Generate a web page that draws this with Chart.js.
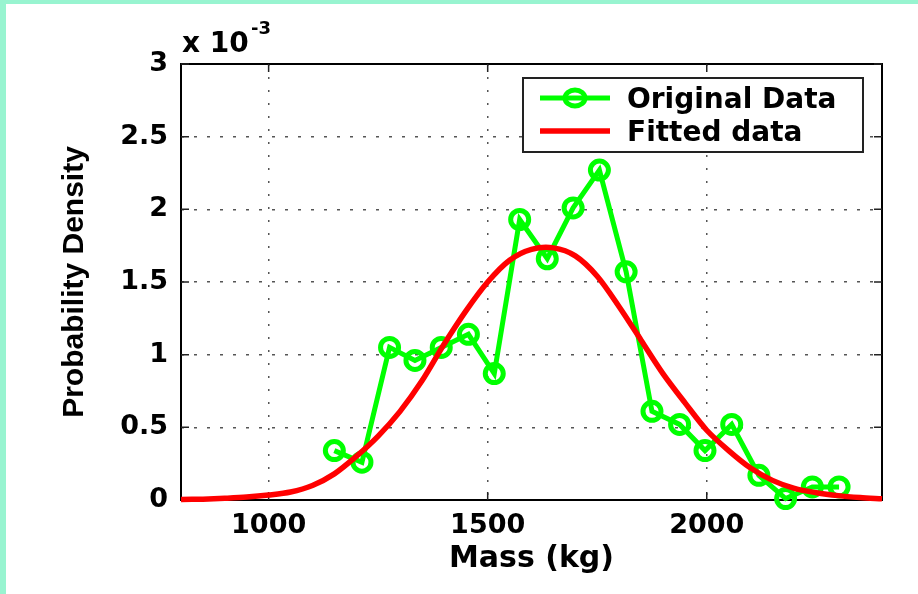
<!DOCTYPE html>
<html>
<head>
<meta charset="utf-8">
<script src="https://cdn.jsdelivr.net/npm/chart.js@4/dist/chart.umd.min.js"></script>
<style>
  html, body { margin: 0; padding: 0; background: #fff; }
  #wrap { width: 918px; height: 594px; }
</style>
</head>
<body>
<div id="wrap"><canvas id="myChart" width="918" height="594"></canvas></div>
<script>
// data (density in units of 1e-3)
const massData = [1150, 1213, 1276, 1334, 1394, 1456, 1515, 1573, 1636, 1695,
                  1755, 1816, 1875, 1938, 1996, 2057, 2119, 2180, 2241, 2302];
const densityData = [0.34, 0.26, 1.05, 0.96, 1.05, 1.14, 0.87, 1.93, 1.66, 2.01,
                     2.27, 1.57, 0.61, 0.52, 0.34, 0.52, 0.17, 0.01, 0.09, 0.09];

const fitMass = [800, 850, 900, 950, 1000, 1050, 1100, 1150, 1200, 1250, 1300,
                 1350, 1400, 1450, 1500, 1550, 1600, 1650, 1700, 1750, 1800,
                 1850, 1900, 1950, 2000, 2050, 2100, 2150, 2200, 2250, 2300, 2350, 2400];
const fitDensity = [0.003, 0.006, 0.012, 0.02, 0.034, 0.055, 0.10, 0.18, 0.30, 0.44, 0.61,
                    0.82, 1.07, 1.30, 1.50, 1.65, 1.725, 1.735, 1.68, 1.54, 1.33,
                    1.10, 0.87, 0.67, 0.48, 0.34, 0.22, 0.135, 0.08, 0.05, 0.03, 0.017, 0.008];

const xTicks = [1000, 1500, 2000];
const yTicks = [0, 0.5, 1, 1.5, 2, 2.5, 3];

const seriesLabels = ['Original Data', 'Fitted data'];
const exponentText = ['x 10', '-3'];

const ctx = document.getElementById('myChart');

function toPoints(xs, ys) {
  let pts = [];
  for (let i = 0; i < xs.length; i++) pts.push({ x: xs[i], y: ys[i] });
  return pts;
}

// extras drawn by hand: frame, inner ticks, legend, exponent, page border
const matlabLook = {
  id: 'matlabLook',
  beforeDraw(chart) {
    const c = chart.ctx;
    c.save();
    c.fillStyle = '#fff';
    c.fillRect(0, 0, chart.width, chart.height);
    c.fillStyle = '#98f4d0';
    c.fillRect(0, 0, chart.width, 4);
    c.fillRect(0, 0, 6, chart.height);
    c.restore();
  },
  beforeDatasetsDraw(chart) {
    const c = chart.ctx;
    const a = chart.chartArea;
    const xs = chart.scales.x, ys = chart.scales.y;
    c.save();
    c.strokeStyle = '#000';
    c.lineWidth = 2;
    c.strokeRect(a.left, a.top, a.right - a.left, a.bottom - a.top);
    c.lineWidth = 1.5;
    c.strokeStyle = '#222';
    c.beginPath();
    xTicks.forEach(v => {
      const px = xs.getPixelForValue(v);
      c.moveTo(px, a.bottom); c.lineTo(px, a.bottom - 8);
      c.moveTo(px, a.top); c.lineTo(px, a.top + 8);
    });
    yTicks.forEach(v => {
      const py = ys.getPixelForValue(v);
      c.moveTo(a.left, py); c.lineTo(a.left + 8, py);
      c.moveTo(a.right, py); c.lineTo(a.right - 8, py);
    });
    c.stroke();
    // exponent
    c.fillStyle = '#000';
    c.textBaseline = 'alphabetic';
    c.font = 'bold 28px "DejaVu Sans"';
    c.fillText(exponentText[0], a.left + 1, 52);
    c.font = 'bold 18px "DejaVu Sans"';
    c.fillText(exponentText[1], a.left + 70, 34);
    c.restore();
  },
  afterDraw(chart) {
    const c = chart.ctx;
    const ds = chart.data.datasets;
    c.save();
    c.fillStyle = '#fff';
    c.fillRect(523, 78, 340, 74);
    c.strokeStyle = '#222';
    c.lineWidth = 2;
    c.strokeRect(523, 78, 340, 74);
    const rows = [98, 131];
    for (let i = 0; i < ds.length; i++) {
      c.strokeStyle = ds[i].borderColor;
      c.lineWidth = ds[i].borderWidth;
      c.beginPath();
      c.moveTo(540, rows[i]); c.lineTo(610, rows[i]);
      c.stroke();
      if (ds[i].pointRadius > 0) {
        c.lineWidth = ds[i].pointBorderWidth;
        c.beginPath();
        c.ellipse(575, rows[i], ds[i].pointRadius + 1, ds[i].pointRadius - 1, 0, 0, Math.PI * 2);
        c.stroke();
      }
      c.fillStyle = '#000';
      c.font = 'bold 28px "DejaVu Sans"';
      c.textBaseline = 'alphabetic';
      c.fillText(ds[i].label, 627, rows[i] + 10);
    }
    c.restore();
  }
};

new Chart(ctx, {
  type: 'line',
  data: {
    datasets: [{
      label: seriesLabels[0],
      data: toPoints(massData, densityData),
      borderColor: '#00ff00',
      borderWidth: 5,
      pointRadius: 9,
      pointBorderWidth: 5,
      pointBorderColor: '#00ff00',
      pointBackgroundColor: 'rgba(0,0,0,0)',
      tension: 0,
      clip: false,
      order: 2
    }, {
      label: seriesLabels[1],
      data: toPoints(fitMass, fitDensity),
      borderColor: '#ff0000',
      borderWidth: 5.5,
      pointRadius: 0,
      tension: 0.3,
      clip: false,
      order: 1
    }]
  },
  options: {
    responsive: false,
    animation: false,
    devicePixelRatio: 1,
    layout: { padding: { left: 0, top: 64, right: 36, bottom: 0 } },
    plugins: {
      legend: { display: false },
      tooltip: { enabled: false }
    },
    scales: {
      x: {
        type: 'linear',
        min: 800,
        max: 2400,
        afterBuildTicks: (s) => { s.ticks = xTicks.map(v => ({ value: v })); },
        afterFit: (s) => { s.height = 94; },
        grid: { color: '#555', lineWidth: 1.5, drawTicks: false },
        border: { display: false, dash: [2, 11] },
        ticks: {
          color: '#000',
          padding: 10,
          font: { family: 'DejaVu Sans', weight: 'bold', size: 27 },
          callback: (v) => String(v)
        },
        title: {
          display: true,
          text: 'Mass (kg)',
          color: '#000',
          font: { family: 'DejaVu Sans', weight: 'bold', size: 30 },
          padding: { top: 0, bottom: 17 }
        }
      },
      y: {
        min: 0,
        max: 3,
        afterBuildTicks: (s) => { s.ticks = yTicks.map(v => ({ value: v })); },
        afterFit: (s) => { s.width = 181; },
        grid: { color: '#555', lineWidth: 1.5, drawTicks: false },
        border: { display: false, dash: [3, 10] },
        ticks: {
          color: '#000',
          padding: 13,
          font: { family: 'DejaVu Sans', weight: 'bold', size: 27 },
          callback: (v) => String(v)
        },
        title: {
          display: true,
          text: 'Probability Density',
          color: '#000',
          font: { family: 'Liberation Sans', weight: 'bold', size: 30 },
          padding: { top: 57, bottom: 0 }
        }
      }
    }
  },
  plugins: [matlabLook]
});
</script>
</body>
</html>
